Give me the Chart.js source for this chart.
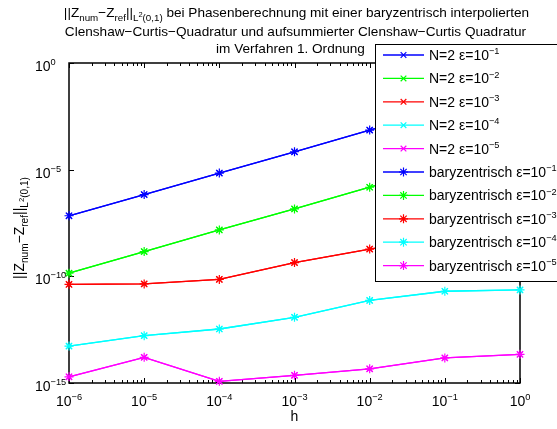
<!DOCTYPE html>
<html>
<head>
<meta charset="utf-8">
<script src="https://cdn.jsdelivr.net/npm/chart.js@4/dist/chart.umd.min.js"></script>
<style>
  html, body { margin: 0; padding: 0; background: #fff; }
  canvas { display: block; }
</style>
</head>
<body>
<canvas id="c" width="557" height="429"></canvas>
<script>
// Daten
const hValues = [1e-6, 1e-5, 1e-4, 1e-3, 1e-2, 1e-1, 1];
const errEps1 = [6.9e-8, 6.8e-7, 6.9e-6, 6.9e-5, 7.2e-4, 7.1e-3, 7.1e-2];
const errEps2 = [1.4e-10, 1.45e-9, 1.5e-8, 1.45e-7, 1.5e-6, 1.5e-5, 1.5e-4];
const errEps3 = [4.2e-11, 4.4e-11, 7.2e-11, 4.4e-10, 1.9e-9, 7e-9, 2.5e-8];
const errEps4 = [5.4e-14, 1.66e-13, 3.4e-13, 1.2e-12, 7.4e-12, 2.0e-11, 2.3e-11];
const errEps5 = [1.95e-15, 1.6e-14, 1.2e-15, 2.3e-15, 4.6e-15, 1.5e-14, 2.2e-14];
const epsExponents = ['\u22121', '\u22122', '\u22123', '\u22124', '\u22125'];
const seriesColors = ['#0000ff', '#00ff00', '#ff0000', '#00ffff', '#ff00ff'];
const xTickExponents = ['\u22126', '\u22125', '\u22124', '\u22123', '\u22122', '\u22121', '0'];
const xTickValues = [1e-6, 1e-5, 1e-4, 1e-3, 1e-2, 1e-1, 1];
const yTickExponents = ['0', '\u22125', '\u221210', '\u221215'];
const yTickValues = [1, 1e-5, 1e-10, 1e-15];

const FONT = 'Arial, "Liberation Sans", Helvetica, sans-serif';
const allErr = [errEps1, errEps2, errEps3, errEps4, errEps5];

function toPoints(vals) {
    return hValues.map((h, i) => ({ x: h, y: vals[i] }));
}

// N=2 zuerst, dann baryzentrisch
const datasets = [];
allErr.forEach((vals, i) => {
    datasets.push({
        label: 'N=2 \u03b5=10^' + epsExponents[i],
        data: toPoints(vals),
        borderColor: seriesColors[i],
        backgroundColor: seriesColors[i],
        borderWidth: 1.3,
        pointStyle: 'crossRot',
        pointRadius: 4,
        pointBorderWidth: 1.2,
        tension: 0,
        clip: false,
        order: 2
    });
});
allErr.forEach((vals, i) => {
    datasets.push({
        label: 'baryzentrisch \u03b5=10^' + epsExponents[i],
        data: toPoints(vals),
        borderColor: seriesColors[i],
        backgroundColor: seriesColors[i],
        borderWidth: 1.3,
        pointStyle: 'star',
        pointRadius: 4.5,
        pointBorderWidth: 1.2,
        tension: 0,
        clip: false,
        order: 1
    });
});

// Text mit Hoch-/Tiefstellung zeichnen
function richWidth(ctx, parts, size) {
    let w = 0;
    parts.forEach(p => {
        ctx.font = (size * p.k) + 'px ' + FONT;
        w += ctx.measureText(p.t).width;
    });
    return w;
}
function drawRich(ctx, parts, x, y, size, align) {
    const w = richWidth(ctx, parts, size);
    let cx = align === 'center' ? x - w / 2 : (align === 'right' ? x - w : x);
    ctx.textAlign = 'left';
    ctx.textBaseline = 'alphabetic';
    parts.forEach(p => {
        ctx.font = (size * p.k) + 'px ' + FONT;
        ctx.fillText(p.t, cx, y + p.dy * size);
        cx += ctx.measureText(p.t).width;
    });
}
const N = (t) => ({ t, k: 1, dy: 0 });
const SUP = (t) => ({ t, k: 0.66, dy: -0.42 });
const SUB = (t) => ({ t, k: 0.72, dy: 0.3 });
const SUBSUP = (t) => ({ t, k: 0.55, dy: -0.02 });

const normParts = [N('||Z'), SUB('num'), N('\u2212Z'), SUB('ref'), N('||'), SUB('L'), SUBSUP('2'), SUB('(0,1)')];

function drawMarker(ctx, style, x, y, r) {
    ctx.beginPath();
    const d = r * Math.SQRT1_2;
    ctx.moveTo(x - d, y - d); ctx.lineTo(x + d, y + d);
    ctx.moveTo(x - d, y + d); ctx.lineTo(x + d, y - d);
    if (style === 'star') {
        ctx.moveTo(x - r, y); ctx.lineTo(x + r, y);
        ctx.moveTo(x, y - r); ctx.lineTo(x, y + r);
    }
    ctx.stroke();
}

const matlabPlugin = {
    id: 'matlabLook',
    beforeDraw(chart) {
        const ctx = chart.ctx;
        ctx.save();
        ctx.fillStyle = '#fff';
        ctx.fillRect(0, 0, chart.width, chart.height);
        ctx.restore();
    },
    beforeDatasetsDraw(chart) {
        const ctx = chart.ctx;
        const a = chart.chartArea;
        const xs = chart.scales.x, ys = chart.scales.y;
        ctx.save();
        ctx.strokeStyle = '#000';
        ctx.lineWidth = 1;
        // Minor- und Major-Ticks (nach innen)
        ctx.beginPath();
        xTickValues.forEach((v, i) => {
            const px = Math.round(xs.getPixelForValue(v)) + 0.5;
            ctx.moveTo(px, a.bottom); ctx.lineTo(px, a.bottom - 5);
            ctx.moveTo(px, a.top); ctx.lineTo(px, a.top + 5);
            if (i < xTickValues.length - 1) {
                for (let m = 2; m <= 9; m++) {
                    const mx = Math.round(xs.getPixelForValue(v * m)) + 0.5;
                    ctx.moveTo(mx, a.bottom); ctx.lineTo(mx, a.bottom - 3);
                    ctx.moveTo(mx, a.top); ctx.lineTo(mx, a.top + 3);
                }
            }
        });
        yTickValues.forEach(v => {
            const py = Math.round(ys.getPixelForValue(v)) + 0.5;
            ctx.moveTo(a.left, py); ctx.lineTo(a.left + 5, py);
            ctx.moveTo(a.right, py); ctx.lineTo(a.right - 5, py);
        });
        ctx.stroke();
        ctx.lineWidth = 1.5;
        ctx.strokeRect(a.left, a.top, a.right - a.left, a.bottom - a.top);
        ctx.restore();
    },
    afterDraw(chart) {
        const ctx = chart.ctx;
        const a = chart.chartArea;
        const xs = chart.scales.x, ys = chart.scales.y;
        const cx = (a.left + a.right) / 2;
        ctx.save();
        ctx.fillStyle = '#000';

        // Titel
        drawRich(ctx, normParts.concat([N(' bei Phasenberechnung mit einer baryzentrisch interpolierten')]), cx + 2, 17, 13.6, 'center');
        drawRich(ctx, [N('Clenshaw\u2212Curtis\u2212Quadratur und aufsummierter Clenshaw\u2212Curtis Quadratur')], cx + 1, 36, 13.6, 'center');
        drawRich(ctx, [N('im Verfahren 1. Ordnung')], cx - 4, 53, 13.6, 'center');

        // x-Achsenbeschriftung
        xTickValues.forEach((v, i) => {
            const px = xs.getPixelForValue(v);
            drawRich(ctx, [N('10'), SUP(xTickExponents[i])], px, 406, 14, 'center');
        });
        drawRich(ctx, [N('h')], cx, 421, 14, 'center');

        // y-Achsenbeschriftung
        yTickValues.forEach((v, i) => {
            const py = ys.getPixelForValue(v);
            drawRich(ctx, [N('10'), SUP(yTickExponents[i])], 35, py + 8, 14, 'left');
        });
        ctx.save();
        ctx.translate(24, (a.top + a.bottom) / 2 + 5);
        ctx.rotate(-Math.PI / 2);
        drawRich(ctx, normParts, 0, 0, 14, 'center');
        ctx.restore();

        // Legende
        const lx = 375, ly = 44, lh = 237;
        ctx.fillStyle = '#fff';
        ctx.fillRect(lx, ly, 200, lh);
        ctx.strokeStyle = '#000';
        ctx.lineWidth = 1;
        ctx.strokeRect(lx + 0.5, ly + 0.5, 200, lh);
        chart.data.datasets.forEach((ds, i) => {
            const y = 55 + i * 23.4;
            ctx.strokeStyle = ds.borderColor;
            ctx.lineWidth = 1.3;
            ctx.beginPath();
            ctx.moveTo(383, y); ctx.lineTo(424, y);
            ctx.stroke();
            ctx.lineWidth = 1.2;
            drawMarker(ctx, ds.pointStyle, 403.5, y, ds.pointRadius);
            const [base, exp] = ds.label.split('^');
            ctx.fillStyle = '#000';
            drawRich(ctx, [N(base), SUP(exp)], 429, y + 5, 14, 'left');
        });
        ctx.restore();
    }
};

new Chart(document.getElementById('c'), {
    type: 'line',
    data: { datasets: datasets },
    options: {
        responsive: false,
        animation: false,
        events: [],
        layout: { padding: { left: 69, top: 63, right: 37, bottom: 46 } },
        scales: {
            x: { type: 'logarithmic', min: 1e-6, max: 1, display: false },
            y: { type: 'logarithmic', min: 1e-15, max: 1, display: false }
        },
        plugins: {
            legend: { display: false },
            tooltip: { enabled: false }
        }
    },
    plugins: [matlabPlugin]
});
</script>
</body>
</html>
